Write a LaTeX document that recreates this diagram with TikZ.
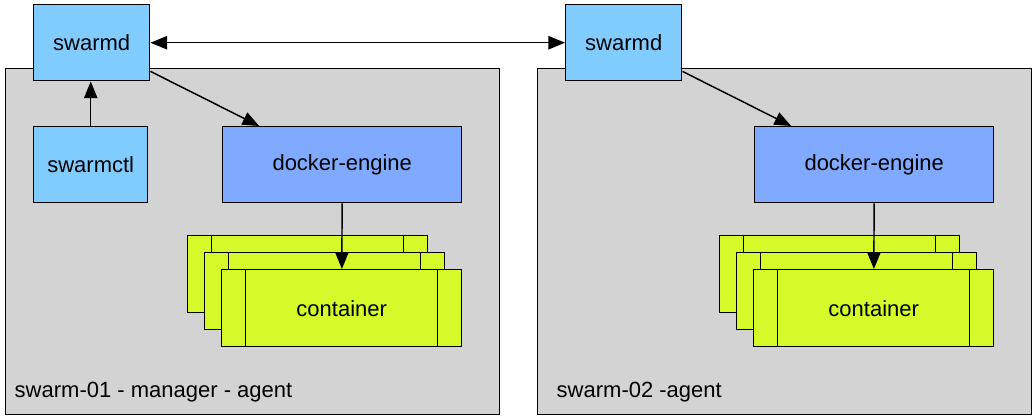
\documentclass[tikz,border=0pt]{standalone}
\usepackage{fontspec}
\setmainfont{Liberation Sans}
\usetikzlibrary{arrows.meta, positioning, calc}
\definecolor{hostgray}{RGB}{211,211,211}
\definecolor{swarmblue}{RGB}{128,204,255}
\definecolor{engineblue}{RGB}{128,170,255}
\definecolor{containergreen}{RGB}{212,250,42}
\tikzset{host/.style={draw, fill=hostgray, anchor=north west, minimum width=370.5pt, minimum height=259.5pt}}
\tikzset{daemon/.style={draw, fill=swarmblue, anchor=north west, minimum width=87pt, minimum height=57pt}}
\tikzset{engine/.style={draw, fill=engineblue, anchor=north west, minimum width=179.25pt, minimum height=57pt}}
\tikzset{cont/.style={draw, fill=containergreen, anchor=north west, minimum width=180pt, minimum height=57.75pt,
  path picture={\draw ([xshift=18pt]path picture bounding box.north west) -- ([xshift=18pt]path picture bounding box.south west);
    \draw ([xshift=-18pt]path picture bounding box.north east) -- ([xshift=-18pt]path picture bounding box.south east);}}}
\tikzset{hostlabel/.style={anchor=base west, inner sep=0pt}}
\tikzset{link/.style={-{Triangle[length=12.5pt, width=10pt]}}}
\tikzset{twoway/.style={{Triangle[length=12.5pt, width=10pt]}-{Triangle[length=12.5pt, width=10pt]}}}

\begin{document}
\begin{tikzpicture}[x=0.75pt, y=-0.75pt, line width=1.1pt, font=\fontsize{16.5}{20}\selectfont]
\useasboundingbox (0,0) rectangle (1034,418);

% hosts
\node[host] (host1) at (5,68) {};
\node[host] (host2) at (537,68) {};
\node[hostlabel] (host1label) at ($(host1.south west)+(9,-18)$) {swarm-01 - manager - agent};
\node[hostlabel] (host2label) at ($(host2.south west)+(19,-18)$) {swarm-02 -agent};

% swarm-01
\node[daemon] (swarmd1) at (33,4) {swarmd};
\node[daemon, minimum width=85.5pt] (swarmctl) at (33,126) {swarmctl};
\node[engine] (docker1) at (222,126) {docker-engine};
\node[cont] (cont1a) at (187,235) {};
\node[cont] (cont1b) at ($(cont1a.north west)+(17,17)$) {};
\node[cont] (cont1c) at ($(cont1b.north west)+(17,17)$) {container};

% swarm-02
\node[daemon] (swarmd2) at (565,4) {swarmd};
\node[engine] (docker2) at (754,126) {docker-engine};
\node[cont] (cont2a) at (719,235) {};
\node[cont] (cont2b) at ($(cont2a.north west)+(17,17)$) {};
\node[cont] (cont2c) at ($(cont2b.north west)+(17,17)$) {container};

\draw[link] (swarmctl) -- (swarmctl.north |- swarmd1.south);
\draw[link] (swarmd1.-26) -- (docker1.155);
\draw[link] (docker1) -- (cont1c);
\draw[twoway] (swarmd1) -- (swarmd2);
\draw[link] (swarmd2.-26) -- (docker2.155);
\draw[link] (docker2) -- (cont2c);
\end{tikzpicture}
\end{document}
